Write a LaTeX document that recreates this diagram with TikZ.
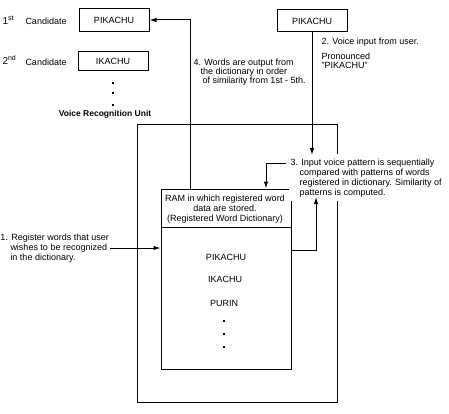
\documentclass[tikz,border=0pt]{standalone}
\usepackage{fontspec}
\setmainfont{Liberation Sans}
\usetikzlibrary{arrows.meta}
\begin{document}
\begin{tikzpicture}[x=1pt,y=-1pt,line width=1pt,
  lbl/.style={font=\fontsize{9}{10}\selectfont, inner sep=0pt, anchor=west},
  wbox/.style={draw, inner sep=0pt, font=\fontsize{9}{10}\selectfont},
  arr/.style={-{Latex[length=7pt,width=4.5pt]}},
  sqdot/.style={fill=black, inner sep=0pt, minimum size=2.5pt},
  ordn/.style={font=\fontsize{10}{10}\selectfont, inner sep=0pt, anchor=west}]
\useasboundingbox (0,0) rectangle (449,414);

% candidate boxes and labels
\node[wbox, minimum width=70pt, minimum height=23pt] (c1) at (114,20) {PIKACHU};
\node[wbox, minimum width=70pt, minimum height=19pt] (c2) at (113,61) {IKACHU};
\node[ordn] (o1) at (2,20) {1\textsuperscript{st}};
\node[lbl] (k1) at (25,21) {Candidate};
\node[ordn] (o2) at (2,60) {2\textsuperscript{nd}};
\node[lbl] (k2) at (25,62) {Candidate};
\node[sqdot] (d1) at (113,83) {};
\node[sqdot] (d2) at (113,93) {};
\node[sqdot] (d3) at (113,105) {};

% voice input box
\node[wbox, minimum width=70pt, minimum height=22pt] (in) at (312,21) {PIKACHU};
\node[lbl] (t2a) at (321,42) {2. Voice input from user.};
\node[lbl] (t2b) at (321,56) {Pronounced};
\node[lbl] (t2c) at (321,65) {"PIKACHU"};

% unit title and outer box
\node[font=\bfseries\fontsize{8.5}{10}\selectfont, inner sep=0pt] (vt) at (105,114) {Voice Recognition Unit};
\node[draw, inner sep=0pt, minimum width=200pt, minimum height=277pt] (vru) at (237,263.5) {};

% RAM box
\node[draw, inner sep=0pt, minimum width=130pt, minimum height=180pt] (ram) at (226,279) {};
\coordinate (ysep) at (0,227);
\draw (ram.west |- ysep) -- (ram.east |- ysep);
\node[font=\fontsize{9}{10}\selectfont, inner sep=0pt, align=center] (rh) at (225,209)
  {RAM in which registered word\\data are stored.\\(Registered Word Dictionary)};
\node[font=\fontsize{9}{10}\selectfont, inner sep=0pt] (w1) at (226,257) {PIKACHU};
\node[font=\fontsize{9}{10}\selectfont, inner sep=0pt] (w2) at (225,279) {IKACHU};
\node[font=\fontsize{9}{10}\selectfont, inner sep=0pt] (w3) at (224,303) {PURIN};
\node[sqdot] (e1) at (224,321) {};
\node[sqdot] (e2) at (224,334) {};
\node[sqdot] (e3) at (224,347) {};

% text 1
\node[lbl] (t1a) at (0,238) {1. Register words that user};
\node[lbl] (t1b) at (10,248) {wishes to be recognized};
\node[lbl] (t1c) at (10,258) {in the dictionary.};

% text 4
\node[lbl] (t4a) at (193,63) {4. Words are output from};
\node[lbl] (t4b) at (200,72) {the dictionary in order};
\node[lbl] (t4c) at (202,81) {of similarity from 1st - 5th.};

% text 3 (white background hides outer box edge)
\node[lbl, anchor=north west, align=left, fill=white, inner xsep=2pt, inner ysep=4pt] (t3) at (288,154)
  {3. Input voice pattern is sequentially\\
   \hspace*{9pt}compared with patterns of words\\
   \hspace*{9pt}registered in dictionary. Similarity of\\
   \hspace*{9pt}patterns is computed.};

% connectors
\coordinate (a1) at (110,248);
\draw[arr] (a1) -- (ram.west |- a1);

\coordinate (r4) at (190,0);
\draw[arr] (r4 |- ram.north) |- (c1.east);

\coordinate (t2tip) at (312,155);
\draw[arr] (in.south) -- (t2tip);

\coordinate (s3) at (286,163);
\coordinate (x3) at (266,0);
\draw[arr] (s3) -| (x3 |- ram.north);

\coordinate (y3) at (0,250);
\coordinate (e3tip) at (316,197);
\draw[arr] (ram.east |- y3) -| (e3tip);
\end{tikzpicture}
\end{document}
